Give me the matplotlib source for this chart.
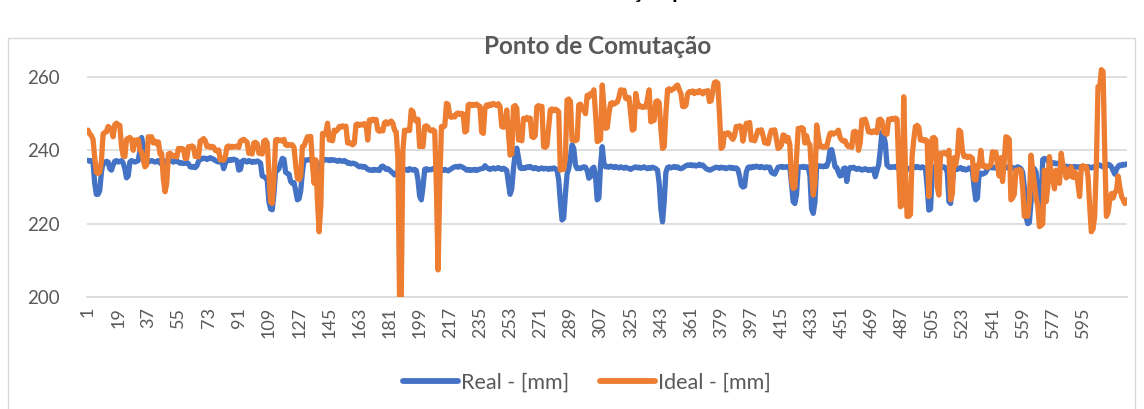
import matplotlib
matplotlib.use("Agg")
import matplotlib.pyplot as plt
from matplotlib.patches import Rectangle

title = "Ponto de Comutação"
outer_title_fragment = "ção p"
series_names = ["Real - [mm]", "Ideal - [mm]"]
x_tick_labels = [1, 19, 37, 55, 73, 91, 109, 127, 145, 163, 181, 199, 217, 235,
                 253, 271, 289, 307, 325, 343, 361, 379, 397, 415, 433, 451, 469,
                 487, 505, 523, 541, 559, 577, 595]
y_ticks = [200, 220, 240, 260]

real = [
    237.3, 237.0, 237.2, 236.8, 231.0, 228.0, 228.0, 229.0, 234.0, 236.8,
    236.5, 237.0, 236.8, 235.0, 234.6, 236.0, 237.0, 237.2, 236.8, 237.0,
    237.2, 236.5, 235.0, 232.5, 233.0, 236.8, 237.2, 237.0, 236.8, 237.0,
    237.2, 240.0, 243.5, 241.0, 237.2, 237.0, 236.8, 237.0, 237.2, 237.0,
    236.8, 237.0, 237.2, 236.5, 237.0, 237.2, 237.0, 236.8, 237.0, 237.2,
    237.0, 236.8, 237.0, 237.2, 236.8, 236.5, 236.6, 236.4, 236.5, 236.7,
    236.3, 235.5, 235.4, 235.6, 235.3, 235.8, 237.0, 237.8, 237.6, 237.9,
    237.8, 237.5, 237.8, 238.0, 237.7, 237.6, 237.2, 237.0, 236.8, 237.1,
    236.9, 235.0, 236.5, 237.4, 237.2, 237.5, 237.3, 237.6, 237.4, 237.2,
    234.6, 234.8, 237.0, 237.3, 237.1, 236.8, 237.2, 237.0, 236.7, 237.0,
    236.8, 237.1, 236.9, 236.5, 233.0, 232.8, 232.5, 232.0, 226.0, 224.0,
    223.8, 228.0, 234.6, 234.5, 235.0, 236.5, 237.8, 237.6, 234.0, 233.7,
    233.5, 231.5, 231.0, 231.2, 229.0, 226.5, 226.8, 229.0, 234.0, 237.4,
    237.2, 237.4, 237.5, 237.3, 237.4, 237.2, 237.0, 232.5, 232.0, 236.0,
    237.4, 237.3, 237.5, 237.4, 237.2, 237.5, 237.3, 237.4, 237.2, 237.0,
    237.3, 237.1, 237.0, 237.2, 237.0, 236.5, 236.6, 236.3, 236.5, 236.4,
    236.2, 235.8, 235.5, 235.7, 235.4, 235.6, 235.3, 234.8, 234.6, 234.7,
    234.5, 234.8, 234.6, 234.7, 234.5, 235.5, 235.7, 235.3, 234.8, 235.0,
    234.6, 234.2, 233.8, 233.3, 233.5, 234.5, 235.0, 234.8, 235.0, 234.7,
    234.8, 234.5, 235.0, 234.7, 234.6, 234.8, 234.5, 232.0, 227.5, 226.5,
    230.0, 234.8, 235.0, 234.6, 234.8, 234.7, 235.0, 235.2, 234.6, 234.8,
    234.4, 234.6, 234.5, 234.8, 234.6, 234.4, 234.7, 235.0, 235.3, 235.5,
    235.6, 235.4, 235.7, 235.5, 235.3, 235.0, 234.6, 234.8, 234.5, 234.7,
    234.6, 234.8, 234.5, 234.7, 234.9, 235.0, 235.1, 235.8, 235.3, 235.0,
    234.8, 235.0, 235.2, 234.9, 235.1, 235.3, 235.0, 234.8, 235.1, 234.9,
    234.5, 231.0, 228.0, 229.5, 235.0, 239.0, 240.6, 238.0, 235.2, 235.0,
    235.3, 235.1, 235.5, 235.3, 235.6, 235.2, 235.0, 235.3, 235.1, 234.8,
    235.0, 235.2, 234.9, 235.1, 235.0, 234.8, 235.1, 234.9, 235.2, 235.0,
    234.6, 232.0, 226.0, 221.0, 221.5, 228.0, 233.5, 235.0, 238.0, 241.5,
    240.5, 236.0, 235.0, 235.2, 235.0, 235.3, 235.5, 235.4, 234.5, 232.4,
    232.8, 235.0, 235.4, 233.0, 226.5, 227.0, 236.0, 241.0, 236.5, 235.5,
    235.6, 235.4, 235.7, 235.5, 235.3, 235.6, 235.4, 235.2, 235.5, 235.3,
    235.1, 235.4, 235.2, 235.0, 234.8, 235.1, 235.3, 235.5, 235.2, 235.4,
    235.1, 235.3, 235.5, 235.2, 235.0, 235.3, 235.1, 235.4, 235.2, 235.0,
    234.6, 231.0, 224.0, 220.5, 226.0, 234.0, 235.3, 235.5, 235.2, 235.4,
    235.6, 235.3, 235.5, 235.1, 235.0, 235.2, 235.5, 235.8, 236.0, 235.9,
    236.1, 235.8, 236.0, 235.7, 235.9, 236.2, 235.8, 236.0, 235.5, 235.0,
    234.8, 234.6, 234.7, 235.0, 235.2, 235.4, 235.3, 235.1, 235.4, 235.2,
    235.3, 235.0, 235.2, 235.4, 235.1, 235.3, 235.0, 235.2, 234.8, 233.0,
    230.5, 230.0, 230.2, 234.0, 235.3, 235.5, 235.2, 235.6, 235.4, 235.7,
    235.5, 235.3, 235.6, 235.4, 235.2, 235.5, 235.3, 235.4, 234.0, 233.7,
    233.5, 234.5, 235.4, 235.5, 235.6, 235.3, 235.5, 235.4, 235.6, 235.3,
    231.0, 226.0, 225.5, 228.0, 235.3, 235.5, 235.4, 235.6, 235.3, 235.5,
    235.4, 233.0, 224.0, 222.8, 226.0, 235.5, 235.8, 235.6, 235.7, 235.5,
    235.8, 235.6, 237.0, 240.0, 240.2, 238.0, 235.5, 235.3, 234.0, 233.0,
    233.2, 235.0, 235.2, 231.5, 234.5, 235.3, 235.2, 235.4, 235.0, 234.8,
    235.1, 234.9, 234.6, 234.8, 235.0, 234.7, 234.5, 234.8, 234.6, 234.9,
    232.8, 234.5, 236.0, 240.0, 245.0, 244.0, 242.0, 236.0, 235.5, 235.3,
    235.5, 235.4, 235.6, 235.3, 235.0, 234.8, 235.0, 235.2, 235.0, 234.8,
    235.0, 235.2, 235.4, 235.5, 235.3, 235.6, 235.4, 235.2, 235.5, 235.3,
    235.0, 230.0, 223.7, 224.0, 234.0, 235.5, 235.3, 235.2, 235.4, 235.6,
    235.3, 235.5, 235.2, 234.0, 226.0, 225.5, 231.0, 235.2, 235.0, 234.8,
    235.1, 235.3, 234.8, 235.0, 234.6, 234.8, 235.2, 234.9, 234.5, 230.0,
    226.5, 227.0, 233.7, 233.8, 233.5, 233.7, 234.0, 235.0, 235.3, 235.5,
    235.2, 235.4, 235.1, 235.3, 235.5, 235.2, 235.0, 235.3, 235.5, 235.2,
    235.4, 235.1, 235.3, 235.0, 235.2, 235.5, 235.3, 235.0, 234.0, 230.0,
    222.0, 220.0, 220.3, 226.0, 234.0, 235.0, 234.0, 228.0, 222.0, 226.0,
    237.5, 237.8, 237.6, 237.2, 236.5, 236.7, 236.4, 236.6, 236.3, 236.5,
    236.2, 236.0, 235.8, 235.5, 235.7, 235.4, 235.6, 235.5, 235.3, 235.6,
    235.4, 235.5, 235.3, 235.6, 235.4, 235.5, 235.3, 235.6, 235.4, 235.2,
    235.5, 235.3, 235.6, 235.8, 236.0, 235.7, 235.5, 235.4, 235.8, 236.2,
    236.0, 235.5, 234.5, 233.5, 234.8, 235.6, 236.0, 235.8, 236.2, 236.0,
    236.3,
]

ideal = [
    245.5, 244.5, 244.0, 243.0, 238.0, 234.0, 233.7, 234.0, 237.0, 244.5,
    244.9, 245.0, 246.5, 246.2, 245.5, 243.7, 247.0, 247.4, 247.0, 246.8,
    241.0, 238.5, 238.3, 243.0, 243.3, 243.5, 243.0, 240.0, 242.8, 242.5,
    243.0, 240.0, 239.5, 237.4, 235.5, 236.0, 243.7, 243.5, 243.7, 242.0,
    242.5, 241.8, 242.3, 239.0, 239.2, 232.0, 228.7, 231.0, 239.0, 239.2,
    238.8, 238.3, 238.5, 238.2, 240.5, 240.2, 240.5, 240.3, 237.8, 237.9,
    241.0, 240.8, 241.2, 240.9, 238.3, 238.5, 238.2, 242.5, 242.8, 243.2,
    242.6, 241.0, 241.2, 240.8, 241.1, 240.9, 240.0, 239.8, 240.1, 237.4,
    237.5, 237.3, 238.3, 241.0, 241.2, 240.8, 241.1, 240.9, 241.0, 241.2,
    240.8, 242.5, 242.8, 243.0, 242.6, 242.2, 239.2, 239.5, 239.0, 242.0,
    242.2, 241.8, 239.2, 239.5, 239.0, 242.5, 242.8, 242.0, 234.0, 226.0,
    225.5, 232.0, 242.8, 243.0, 242.6, 242.8, 242.5, 243.0, 241.5, 241.3,
    241.6, 241.4, 241.5, 240.8, 236.0, 232.4, 232.0, 233.0, 241.0, 241.2,
    242.5, 243.7, 243.5, 243.8, 236.0, 231.0, 237.4, 226.0, 217.8, 225.0,
    244.6, 244.2, 244.8, 247.4, 242.8, 243.0, 242.6, 245.5, 245.2, 245.6,
    246.5, 246.3, 246.7, 246.4, 246.6, 242.0, 242.2, 241.8, 241.5, 242.0,
    247.0, 247.2, 246.8, 247.1, 246.9, 247.3, 247.0, 242.8, 248.3, 248.0,
    248.5, 248.2, 248.4, 245.5, 245.2, 245.6, 245.3, 247.5, 247.8, 247.2,
    247.6, 248.0, 247.4, 245.5, 245.0, 238.0, 199.5, 200.0, 240.0, 245.5,
    245.3, 245.6, 245.4, 251.0, 250.5, 248.3, 248.0, 248.5, 241.0, 241.3,
    241.0, 246.5, 246.7, 246.3, 245.5, 245.3, 245.6, 245.2, 230.0, 207.4,
    230.0, 246.5, 246.3, 246.7, 252.8, 252.5, 249.2, 249.0, 249.4, 249.1,
    250.0, 250.2, 249.8, 250.1, 249.9, 245.0, 245.3, 252.4, 252.6, 252.2,
    252.5, 252.3, 252.6, 252.2, 252.0, 245.0, 244.6, 251.5, 252.4, 252.0,
    252.6, 252.3, 252.8, 252.5, 252.2, 252.7, 252.0, 246.5, 246.3, 246.8,
    251.0, 245.0, 238.7, 239.0, 251.9, 252.2, 251.5, 242.8, 243.0, 242.6,
    248.7, 248.5, 249.0, 248.3, 248.8, 243.7, 243.5, 244.0, 251.9, 252.2,
    251.7, 252.0, 241.0, 240.8, 241.3, 246.0, 251.0, 251.3, 250.8, 251.2,
    251.0, 250.5, 234.6, 235.0, 234.8, 238.0, 253.7, 254.0, 253.4, 242.8,
    243.0, 242.6, 242.9, 252.4, 252.6, 251.5, 250.8, 250.0, 255.0, 254.5,
    255.5, 255.2, 256.5, 250.0, 242.4, 242.6, 243.0, 257.8, 252.0, 246.0,
    246.2, 250.0, 252.8, 253.0, 252.6, 252.9, 253.2, 254.5, 256.5, 256.3,
    256.4, 254.2, 254.0, 254.4, 250.0, 245.5, 245.8, 255.5, 253.0, 251.9,
    252.1, 251.7, 252.0, 251.8, 254.0, 256.5, 247.8, 248.0, 248.2, 253.3,
    253.5, 253.0, 246.0, 240.5, 241.0, 250.0, 256.5, 256.8, 256.3, 256.6,
    256.9, 257.5, 257.8, 256.5, 255.5, 252.0, 251.9, 252.3, 255.5, 256.0,
    255.8, 256.2, 255.5, 256.0, 255.7, 256.3, 255.9, 255.4, 256.1, 255.8,
    256.3, 253.3, 253.5, 256.0, 258.5, 258.7, 258.3, 250.0, 240.5, 241.0,
    244.6, 244.3, 244.8, 244.5, 243.5, 243.0, 244.0, 246.5, 246.2, 246.7,
    246.4, 242.5, 245.0, 247.4, 247.2, 247.6, 242.8, 243.0, 242.6, 244.0,
    245.5, 245.3, 245.6, 244.0, 242.0, 242.2, 241.8, 244.0, 245.5, 245.3,
    245.6, 243.0, 240.5, 240.8, 241.5, 244.2, 244.0, 242.5, 243.5, 241.5,
    232.0, 229.6, 230.0, 238.0, 246.0, 245.8, 246.2, 245.9, 242.0, 244.0,
    242.0, 241.5, 234.0, 227.8, 231.0, 246.9, 244.0, 241.0, 241.2, 240.8,
    241.1, 240.9, 243.0, 244.6, 244.8, 244.4, 244.7, 245.0, 245.5, 243.5,
    242.8, 242.5, 242.6, 241.5, 241.0, 241.2, 240.8, 245.0, 245.2, 244.8,
    240.0, 242.0, 248.3, 248.0, 248.5, 247.0, 245.0, 245.2, 244.8, 245.3,
    245.0, 244.8, 248.3, 248.5, 248.0, 245.0, 244.6, 244.4, 248.5, 248.3,
    248.7, 248.4, 248.8, 248.5, 236.0, 224.6, 225.0, 254.6, 235.0, 222.0,
    222.0, 222.5, 238.3, 243.0, 246.5, 246.8, 246.3, 242.8, 243.0, 242.6,
    242.9, 242.5, 227.4, 236.0, 243.3, 243.5, 243.0, 230.0, 227.8, 239.2,
    239.0, 239.4, 239.1, 238.8, 240.0, 226.5, 228.0, 238.0, 236.0, 238.5,
    245.5, 245.0, 240.0, 238.3, 238.5, 238.0, 238.4, 238.2, 237.8, 232.0,
    231.9, 236.0, 235.5, 240.0, 236.0, 235.5, 235.8, 235.3, 235.6, 236.0,
    239.6, 239.2, 239.5, 236.0, 233.0, 238.0, 231.5, 237.0, 243.7, 243.5,
    243.0, 226.5, 227.0, 228.0, 234.6, 234.4, 234.8, 234.5, 230.0, 222.0,
    222.3, 222.0, 226.0, 238.7, 234.6, 231.0, 227.0, 225.0, 219.2, 219.5,
    220.0, 234.6, 226.0, 230.0, 238.3, 234.0, 232.0, 229.5, 234.6, 233.0,
    231.0, 239.2, 236.0, 235.0, 232.5, 234.8, 233.0, 235.5, 232.6, 234.2,
    233.5, 231.0, 227.4, 235.5, 235.8, 235.2, 235.6, 233.0, 225.0, 217.8,
    218.5, 222.0, 236.0, 257.4, 257.0, 262.0, 261.5, 240.0, 222.0, 223.0,
    226.5, 228.2, 227.0, 228.5, 229.0, 233.0, 230.0, 227.5, 226.5, 225.5,
    226.5,
]

W, H, DPI = 1144, 409, 100
fig = plt.figure(figsize=(W / DPI, H / DPI), dpi=DPI)
fig.patch.set_facecolor("white")

font = "Lato"
grey_txt = "#595959"

# outer chart border
fig.patches.append(Rectangle((8 / W, -0.05), (1135 - 8) / W, (409 - 38) / H + 0.05,
                             transform=fig.transFigure, fill=False,
                             edgecolor="#D9D9D9", linewidth=1.0))

# fragment of the enclosing document title, cut by the top edge
fig.text(632 / W, 1 + 1.5 / H, outer_title_fragment, ha="left", va="baseline",
         fontsize=16, fontweight="bold", color="black", family=font)

n = max(len(real), len(ideal))
cat_w = 1.675
left_px = 88 - cat_w / 2
right_px = left_px + n * cat_w
y_lo, y_hi = 200, 264
px_per_unit = 220 / 60
top_px = 297 - (y_hi - y_lo) * px_per_unit
ax = fig.add_axes([left_px / W, (H - 297) / H, (right_px - left_px) / W, (297 - top_px) / H])
ax.set_xlim(0.5, n + 0.5)
ax.set_ylim(y_lo, y_hi)

ax.set_yticks(y_ticks)
ax.grid(axis="y", color="#D9D9D9", linewidth=1.2)
ax.set_axisbelow(True)
for s in ["top", "right", "left"]:
    ax.spines[s].set_visible(False)
ax.spines["bottom"].set_color("#D9D9D9")
ax.spines["bottom"].set_linewidth(1.2)
ax.spines["bottom"].set_zorder(0.5)

ax.plot(range(1, len(real) + 1), real, color="#4472C4", linewidth=3.8,
        solid_joinstyle="round", solid_capstyle="round", label=series_names[0], zorder=2)
ax.plot(range(1, len(ideal) + 1), ideal, color="#ED7D31", linewidth=3.8,
        solid_joinstyle="round", solid_capstyle="round", label=series_names[1], zorder=3)

ax.set_xticks(x_tick_labels)
ax.set_xticklabels([str(v) for v in x_tick_labels], rotation=90, fontsize=13,
                   color=grey_txt, family=font)
ax.tick_params(axis="x", length=0, pad=7)
ax.tick_params(axis="y", length=0, pad=20, labelsize=13.5, labelcolor=grey_txt)
for lbl in ax.get_yticklabels():
    lbl.set_family(font)

fig.text(598 / W, (H - 47) / H, title, ha="center", va="center", fontsize=17.5,
         fontweight="bold", color=grey_txt, family=font)

leg = fig.legend(loc="center", bbox_to_anchor=(587 / W, (H - 383) / H), ncol=2,
                 frameon=False, prop={"family": font, "size": 15.5},
                 handlelength=2.55, handletextpad=0.15, columnspacing=1.4)
for t in leg.get_texts():
    t.set_color(grey_txt)
for h in leg.get_lines():
    h.set_linewidth(4.2)
    h.set_solid_capstyle("round")

fig.savefig("out.png", dpi=DPI, facecolor="white")
